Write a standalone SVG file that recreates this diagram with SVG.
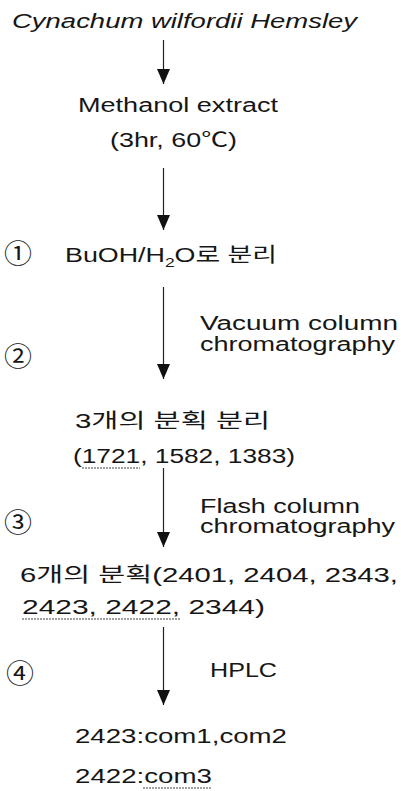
<svg xmlns="http://www.w3.org/2000/svg" width="401" height="791" viewBox="0 0 401 791">
  <defs>
    <style>
      .t { font-family: "Liberation Sans", "Noto Sans CJK KR", sans-serif; font-size: 20px; fill: #161616; }
      .it { font-style: italic; }
      .num { font-family: "Noto Sans CJK KR", "DejaVu Sans", sans-serif; font-size: 26px; fill: #161616; }
      .flow { stroke: #222; stroke-width: 1.2; fill: none; marker-end: url(#head); }
      .ul { stroke: #444; stroke-width: 1.2; stroke-dasharray: 2 1; }
    </style>
    <marker id="head" markerUnits="userSpaceOnUse" markerWidth="14" markerHeight="16" refX="6.5" refY="15" viewBox="0 0 14 16">
      <path d="M0,0 L13,0 L6.5,15 Z" fill="#111"/>
    </marker>
  </defs>
  <rect width="401" height="791" fill="#fff"/>

  <g id="connectors">
    <line class="flow" x1="163.5" y1="40" x2="163.5" y2="84"/>
    <line class="flow" x1="163.5" y1="168" x2="163.5" y2="230"/>
    <line class="flow" x1="163.5" y1="287" x2="163.5" y2="379"/>
    <line class="flow" x1="163.5" y1="468" x2="163.5" y2="547"/>
    <line class="flow" x1="163.5" y1="627" x2="163.5" y2="705"/>
  </g>

  <g id="plant">
    <text class="t it" x="12" y="28" textLength="345" lengthAdjust="spacingAndGlyphs">Cynachum wilfordii Hemsley</text>
  </g>

  <g id="methanol-extract">
    <text class="t" x="78" y="112" textLength="200" lengthAdjust="spacingAndGlyphs">Methanol extract</text>
    <text class="t" x="110" y="147" textLength="127" lengthAdjust="spacingAndGlyphs">(3hr, 60℃)</text>
  </g>

  <g id="step1">
    <text class="num" x="4" y="263" textLength="28" lengthAdjust="spacingAndGlyphs">①</text>
    <text class="t" x="65" y="262" textLength="212" lengthAdjust="spacingAndGlyphs">BuOH/H<tspan font-size="13" dy="5">2</tspan><tspan dy="-5">O로 분리</tspan></text>
  </g>

  <g id="step2">
    <text class="num" x="4" y="366" textLength="28" lengthAdjust="spacingAndGlyphs">②</text>
    <text class="t" x="200" y="330" textLength="198" lengthAdjust="spacingAndGlyphs">Vacuum column</text>
    <text class="t" x="200" y="351" textLength="195" lengthAdjust="spacingAndGlyphs">chromatography</text>
  </g>

  <g id="fractions-3">
    <text class="t" x="75" y="428" textLength="195" lengthAdjust="spacingAndGlyphs">3개의 분획 분리</text>
    <text class="t" x="73" y="463" textLength="222" lengthAdjust="spacingAndGlyphs">(1721, 1582, 1383)</text>
    <line class="ul" x1="82" y1="468" x2="140" y2="468"/>
  </g>

  <g id="step3">
    <text class="num" x="4" y="532" textLength="28" lengthAdjust="spacingAndGlyphs">③</text>
    <text class="t" x="200" y="513" textLength="160" lengthAdjust="spacingAndGlyphs">Flash column</text>
    <text class="t" x="200" y="533" textLength="195" lengthAdjust="spacingAndGlyphs">chromatography</text>
  </g>

  <g id="fractions-6">
    <text class="t" x="20" y="582" textLength="378" lengthAdjust="spacingAndGlyphs">6개의 분획(2401, 2404, 2343,</text>
    <text class="t" x="22" y="614" textLength="243" lengthAdjust="spacingAndGlyphs">2423, 2422, 2344)</text>
    <line class="ul" x1="22" y1="619" x2="180" y2="619"/>
  </g>

  <g id="step4">
    <text class="num" x="6" y="683" textLength="28" lengthAdjust="spacingAndGlyphs">④</text>
    <text class="t" x="210" y="677" textLength="67" lengthAdjust="spacingAndGlyphs">HPLC</text>
  </g>

  <g id="compounds">
    <text class="t" x="75" y="743" textLength="212" lengthAdjust="spacingAndGlyphs">2423:com1,com2</text>
    <text class="t" x="75" y="783" textLength="137" lengthAdjust="spacingAndGlyphs">2422:com3</text>
    <line class="ul" x1="143" y1="788" x2="212" y2="788"/>
  </g>
</svg>
